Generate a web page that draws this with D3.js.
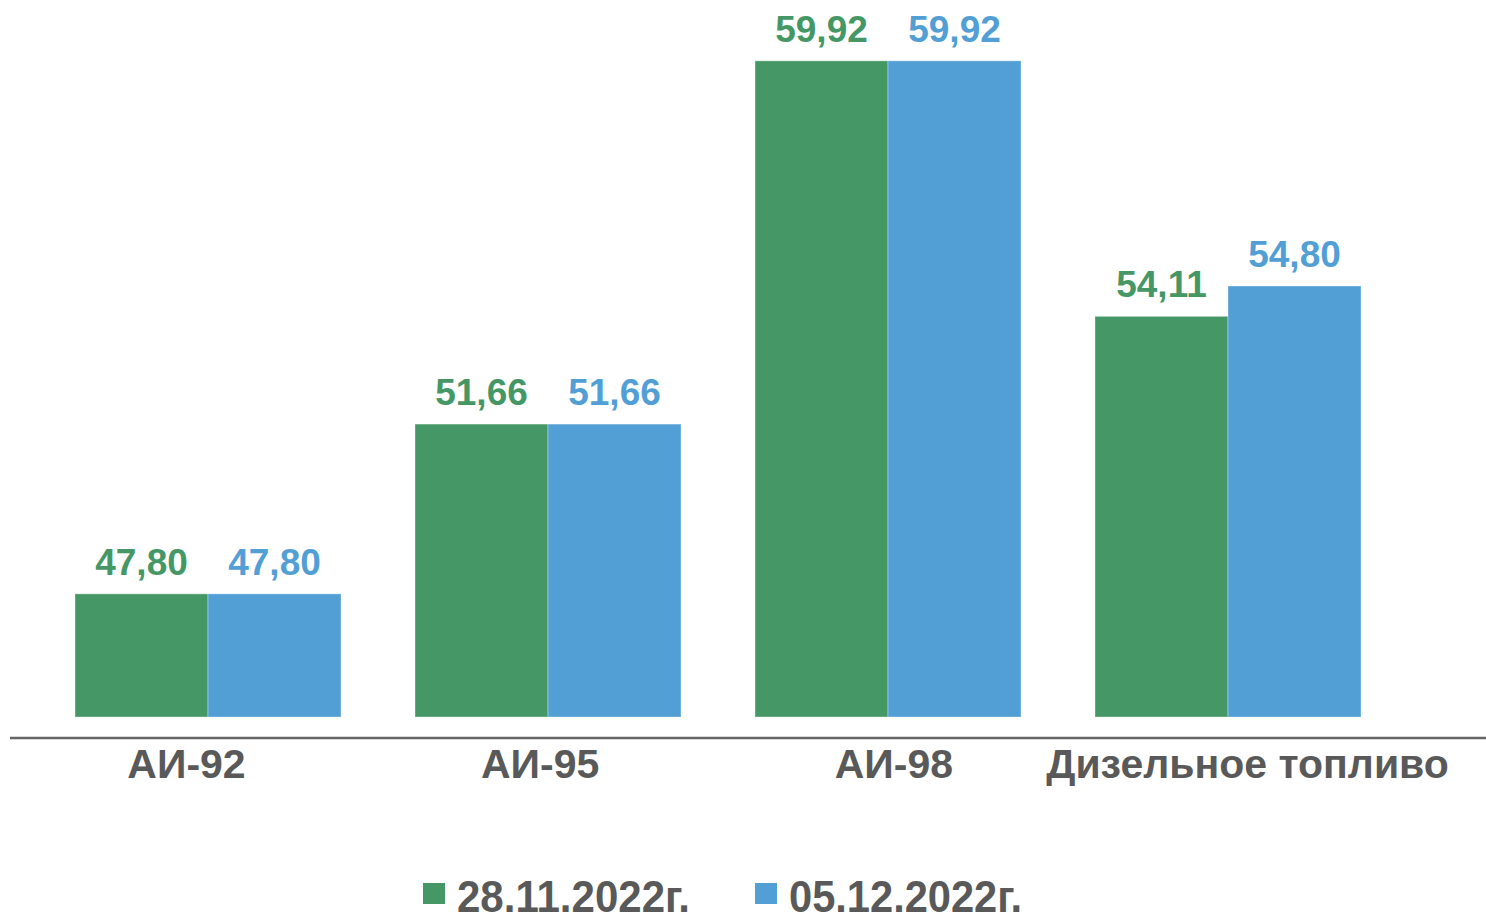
<!DOCTYPE html>
<html>
<head>
<meta charset="utf-8">
<script src="https://cdn.jsdelivr.net/npm/d3@7"></script>
<style>
  body { margin: 0; background: #fff; }
  text { font-family: "Liberation Sans", Arial, sans-serif; font-weight: bold; }
</style>
</head>
<body>
<div id="chart-area"></div>
<script>
// data
var categories = ["АИ-92", "АИ-95", "АИ-98", "Дизельное топливо"];
var seriesNames = ["28.11.2022г.", "05.12.2022г."];
var values1 = [47.80, 51.66, 59.92, 54.11];
var values2 = [47.80, 51.66, 59.92, 54.80];
var colors = ["#459865", "#529fd6"];

var width = 1486, height = 913;
var baseY = 717, axisY = 738;

var svg = d3.select("#chart-area")
    .append("svg")
        .attr("width", width)
        .attr("height", height);

var x = d3.scaleBand()
    .domain(categories)
    .range([38, 1398])
    .paddingInner(0.2176)
    .paddingOuter(0.1088);

var xInner = d3.scaleBand()
    .domain([0, 1])
    .range([0, x.bandwidth()]);

var y = d3.scaleLinear()
    .domain([45, 60])
    .range([baseY, 57.3]);

var fmt = function(v){ return d3.format(".2f")(v).replace(".", ","); };

var rows = categories.map(function(c, i){
    return { cat: c, vals: [values1[i], values2[i]] };
});

var groups = svg.selectAll(".group")
    .data(rows)
    .enter().append("g")
        .attr("class", "group")
        .attr("transform", function(d){ return "translate(" + x(d.cat) + ",0)"; });

groups.selectAll("rect")
    .data(function(d){ return d.vals.map(function(v, k){ return { v: v, k: k }; }); })
    .enter().append("rect")
        .attr("x", function(d){ return xInner(d.k); })
        .attr("y", function(d){ return y(d.v); })
        .attr("width", xInner.bandwidth())
        .attr("height", function(d){ return baseY - y(d.v); })
        .attr("fill", function(d){ return colors[d.k]; })
        .attr("stroke", "rgba(255,255,255,0.35)")
        .attr("stroke-width", 1);

groups.selectAll(".val")
    .data(function(d){ return d.vals.map(function(v, k){ return { v: v, k: k }; }); })
    .enter().append("text")
        .attr("class", "val")
        .attr("x", function(d){ return xInner(d.k) + xInner.bandwidth() / 2; })
        .attr("y", function(d){ return y(d.v) - 19; })
        .attr("text-anchor", "middle")
        .attr("font-size", "37px")
        .attr("fill", function(d){ return colors[d.k]; })
        .text(function(d){ return fmt(d.v); });

// axis line
svg.append("line")
    .attr("x1", 10).attr("x2", width)
    .attr("y1", axisY).attr("y2", axisY)
    .attr("stroke", "#666")
    .attr("stroke-width", 2.5);

// category labels
var xLabels = d3.scalePoint()
    .domain(categories)
    .range([186, 1247]);

var xAxis = svg.append("g")
    .attr("transform", "translate(0," + axisY + ")")
    .call(d3.axisBottom(xLabels).tickSize(0));
xAxis.select(".domain").remove();
xAxis.selectAll("text")
    .attr("y", 40)
    .attr("dy", 0)
    .attr("font-size", "41px")
    .attr("font-family", "Liberation Sans, Arial, sans-serif")
    .attr("font-weight", "bold")
    .attr("fill", "#595959");

// legend
var legend = svg.append("g");
var lx = 423;
seriesNames.forEach(function(name, i){
    var row = legend.append("g").attr("transform", "translate(" + lx + ",0)");
    row.append("rect")
        .attr("x", 0).attr("y", 883)
        .attr("width", 22).attr("height", 21)
        .attr("fill", colors[i]);
    var t = row.append("text")
        .attr("x", 34).attr("y", 912)
        .attr("font-size", "45px")
        .attr("fill", "#595959")
        .attr("textLength", 233)
        .attr("lengthAdjust", "spacingAndGlyphs")
        .text(name);
    lx += 34 + 233 + 65;
});
</script>
</body>
</html>
